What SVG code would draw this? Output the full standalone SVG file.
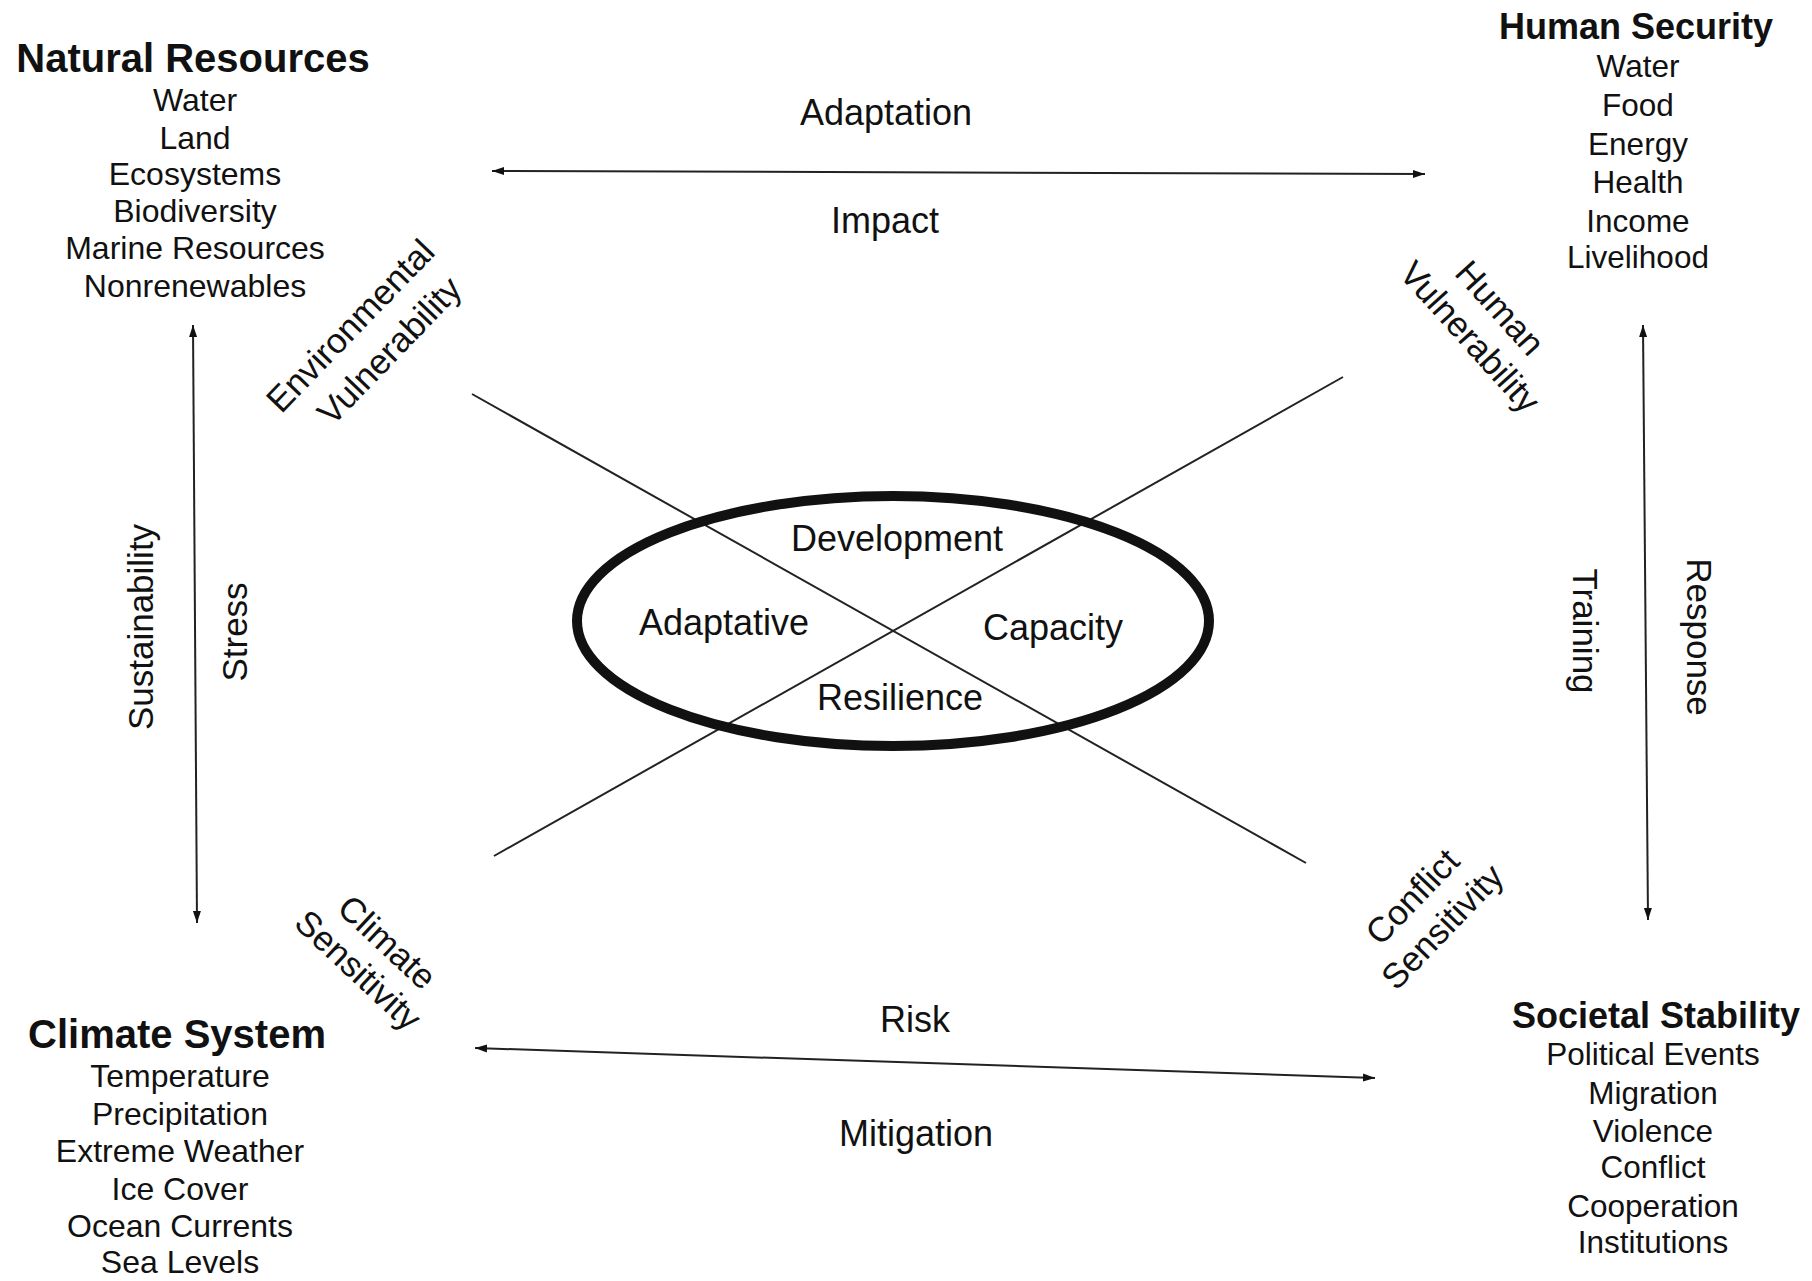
<svg xmlns="http://www.w3.org/2000/svg" width="1812" height="1281" viewBox="0 0 1812 1281">
<style>
text{font-family:"Liberation Sans",Arial,sans-serif;fill:#111;text-anchor:middle}
.tl{font-size:40px;font-weight:bold}
.tr{font-size:36px;font-weight:bold}
.it{font-size:32px}
.ir{font-size:31.5px}
.lb{font-size:36px}
.rl{font-size:35px}
.ln{stroke:#222;stroke-width:2;fill:none}
.ar{stroke:#222;stroke-width:2;fill:none;marker-start:url(#ah);marker-end:url(#ah)}
</style>
<defs>
<marker id="ah" markerUnits="userSpaceOnUse" markerWidth="13" markerHeight="9" refX="12" refY="4.5" orient="auto-start-reverse">
<path d="M0,0.5 L12,4.5 L0,8.5 z" fill="#111"/>
</marker>
</defs>
<rect width="1812" height="1281" fill="#fff"/>

<g id="natural-resources">
<text class="tl" x="193" y="72">Natural Resources</text>
<text class="it" x="195" y="111">Water</text>
<text class="it" x="195" y="149">Land</text>
<text class="it" x="195" y="185">Ecosystems</text>
<text class="it" x="195" y="222">Biodiversity</text>
<text class="it" x="195" y="259">Marine Resources</text>
<text class="it" x="195" y="297">Nonrenewables</text>
</g>

<g id="human-security">
<text class="tr" x="1636" y="39">Human Security</text>
<text class="ir" x="1638" y="77">Water</text>
<text class="ir" x="1638" y="116">Food</text>
<text class="ir" x="1638" y="155">Energy</text>
<text class="ir" x="1638" y="193">Health</text>
<text class="ir" x="1638" y="232">Income</text>
<text class="ir" x="1638" y="268">Livelihood</text>
</g>

<g id="climate-system">
<text class="tl" x="177" y="1048">Climate System</text>
<text class="it" x="180" y="1087">Temperature</text>
<text class="it" x="180" y="1125">Precipitation</text>
<text class="it" x="180" y="1162">Extreme Weather</text>
<text class="it" x="180" y="1200">Ice Cover</text>
<text class="it" x="180" y="1237">Ocean Currents</text>
<text class="it" x="180" y="1273">Sea Levels</text>
</g>

<g id="societal-stability">
<text class="tr" x="1656" y="1028">Societal Stability</text>
<text class="ir" x="1653" y="1065">Political Events</text>
<text class="ir" x="1653" y="1104">Migration</text>
<text class="ir" x="1653" y="1142">Violence</text>
<text class="ir" x="1653" y="1178">Conflict</text>
<text class="ir" x="1653" y="1217">Cooperation</text>
<text class="ir" x="1653" y="1253">Institutions</text>
</g>

<g id="connectors">
<line class="ln" x1="472" y1="394" x2="1306" y2="863"/>
<line class="ln" x1="494" y1="856" x2="1343" y2="377"/>
<line class="ar" x1="492" y1="171" x2="1425" y2="174"/>
<line class="ar" x1="475" y1="1048" x2="1375" y2="1078"/>
<line class="ar" x1="193" y1="325" x2="197" y2="923"/>
<line class="ar" x1="1643" y1="325" x2="1648" y2="920"/>
</g>

<g id="core">
<ellipse cx="893" cy="621" rx="316" ry="125" fill="none" stroke="#111" stroke-width="10"/>
<text class="lb" x="897" y="551">Development</text>
<text class="lb" x="724" y="635">Adaptative</text>
<text class="lb" x="1053" y="640">Capacity</text>
<text class="lb" x="900" y="710">Resilience</text>
</g>

<g id="labels">
<text class="lb" x="886" y="125">Adaptation</text>
<text class="lb" x="885" y="233">Impact</text>
<text class="lb" x="915" y="1032">Risk</text>
<text class="lb" x="916" y="1146">Mitigation</text>
<text class="rl" transform="translate(153,627) rotate(-90)">Sustainability</text>
<text class="rl" transform="translate(247,632) rotate(-90)">Stress</text>
<text class="rl" transform="translate(1573,631) rotate(90)">Training</text>
<text class="rl" transform="translate(1687,637) rotate(90)">Response</text>
<text class="rl" transform="translate(359,334) rotate(-46)">Environmental</text>
<text class="rl" transform="translate(398,359) rotate(-46)">Vulnerability</text>
<text class="rl" transform="translate(1491,316) rotate(48)">Human</text>
<text class="rl" transform="translate(1461,345) rotate(48)">Vulnerability</text>
<text class="rl" transform="translate(379,951) rotate(43)">Climate</text>
<text class="rl" transform="translate(350,979) rotate(43)">Sensitivity</text>
<text class="rl" transform="translate(1421,905) rotate(-46)">Conflict</text>
<text class="rl" transform="translate(1451,935) rotate(-46)">Sensitivity</text>
</g>
</svg>
